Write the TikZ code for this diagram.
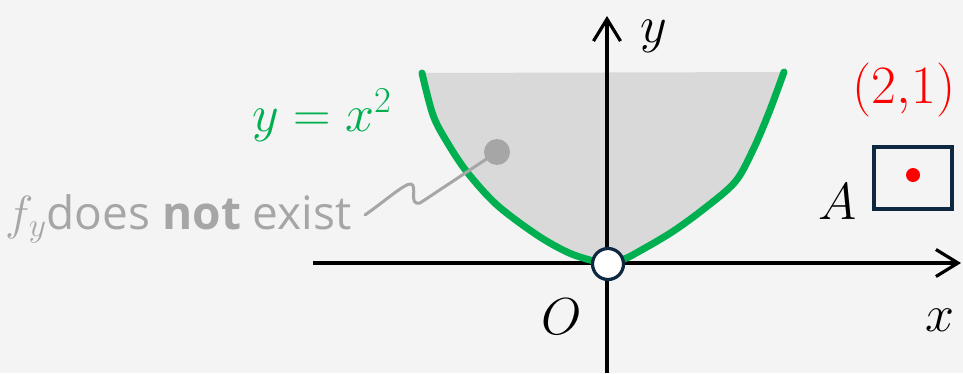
\RequirePackage{fix-cm}
\documentclass[tikz,border=0pt]{standalone}
\usepackage{fontspec}
\setsansfont{Open Sans}
\usetikzlibrary{arrows.meta}
\definecolor{bg}{HTML}{F4F4F4}
\definecolor{regfill}{HTML}{D9D9D9}
\definecolor{curvegreen}{HTML}{00B050}
\definecolor{txtgray}{HTML}{A6A6A6}
\definecolor{navy}{HTML}{0E2841}
\definecolor{ptred}{HTML}{FF0000}
\tikzset{
  axisline/.style={line width=3.2pt, black, -{Straight Barb[length=22pt,width=27pt,line width=3.2pt]}},
  mathlabel/.style={inner sep=0pt, font=\fontsize{52}{58}\selectfont},
  curve/.style={line width=7pt, curvegreen},
}
\begin{document}
\begin{tikzpicture}[x=1pt,y=-1pt]
\fill[bg] (0,0) rectangle (963,373);
\useasboundingbox (0,0) rectangle (963,373);
% shaded region
\fill[regfill] plot[smooth,tension=0.55] coordinates {(422,73) (433,115) (447,142) (467,172) (497,205) (537,235) (567,252) (590,260) (607,263) (624,259) (638,252) (672,232) (705,208) (735,182) (752,152) (768,115) (784,72)} -- cycle;
% axes
\coordinate (xl) at (313,263);
\coordinate (xr) at (961,263);
\coordinate (yb) at (607,373);
\coordinate (yt) at (607,16);
\draw[axisline] (xl) -- (xr);
\draw[axisline] (yb) -- (yt);
% curve
\draw[curve, line cap=round] plot[smooth,tension=0.55] coordinates {(422,73) (433,115) (447,142) (467,172) (497,205) (537,235) (567,252) (590,260) (607,263) (624,259) (638,252) (672,232) (705,208) (735,182) (752,152) (768,115) (784,72)};
% origin
\node[circle, draw=navy, fill=white, line width=3.2pt, minimum size=31pt, inner sep=0pt] (orig) at (608,264) {};
% annotation
\node[circle, fill=txtgray, minimum size=26pt, inner sep=0pt] (gdot) at (497,152) {};
\node[anchor=base east, inner sep=0pt, text=txtgray, font=\sffamily\fontsize{46}{52}\selectfont] (note) at (352,229) {{\fontsize{48}{54}\selectfont$f_y$}does \textbf{not} exist};
\coordinate (nend) at (365,215);
\draw[txtgray, line width=3pt, line cap=round, line join=round] (nend) .. controls (385,201) and (405,183) .. (411,184) .. controls (418,186) and (408,206) .. (420,203) -- (gdot.center);
% labels
\node[mathlabel, text=curvegreen, anchor=base west] (eq) at (252,131) {$y=x^2$};
\node[mathlabel, anchor=base] (ylab) at (654,42) {$y$};
\node[mathlabel, anchor=base] (xlab) at (940,331) {$x$};
\node[mathlabel, anchor=base] (olab) at (562,334) {$O$};
\node[mathlabel, anchor=base] (alab) at (838,219) {$A$};
\node[inner sep=0pt, anchor=base, text=ptred, font=\fontsize{54}{60}\selectfont] (pt) at (904,103) {$(2{,}1)$};
% box A
\node[draw=navy, line width=3.2pt, minimum width=78pt, minimum height=62pt, inner sep=0pt] (boxa) at (913,178) {};
\node[circle, fill=ptred, minimum size=14pt, inner sep=0pt] (rdot) at (913,175) {};
\end{tikzpicture}
\end{document}
